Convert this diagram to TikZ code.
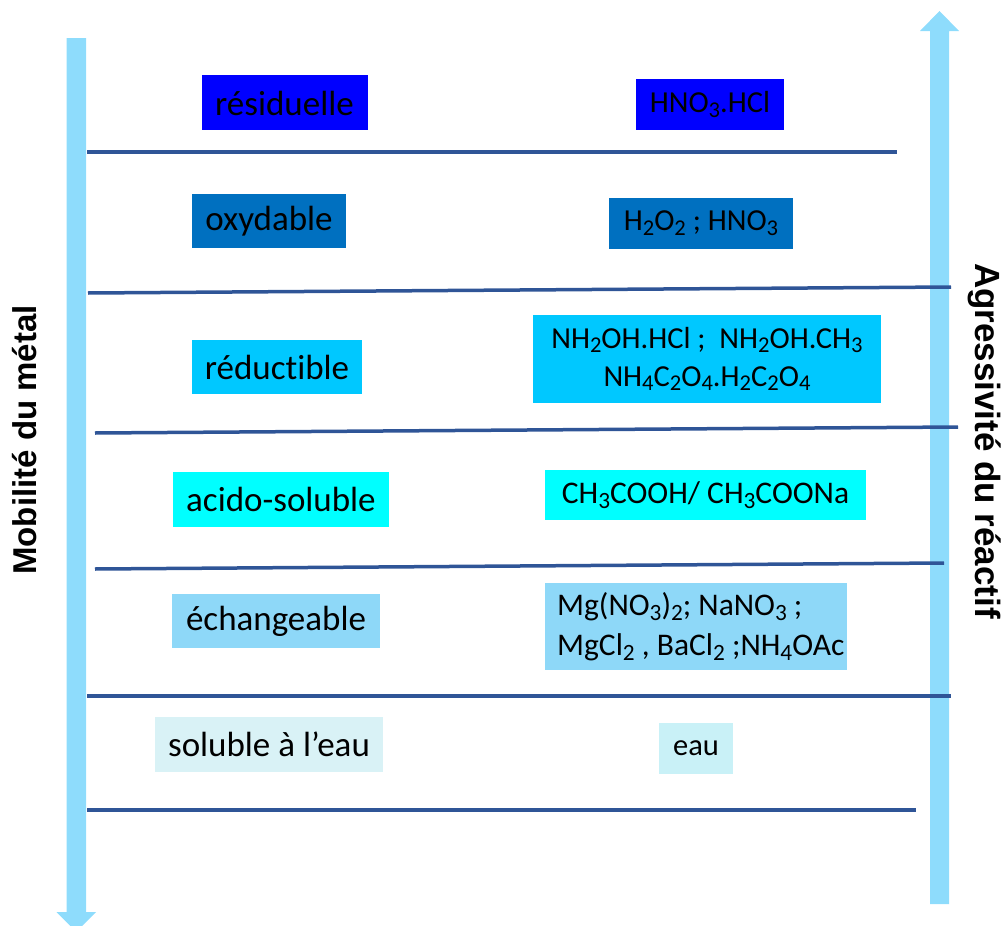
\documentclass[tikz,border=0pt]{standalone}
\usepackage{fontspec}
\usepackage{graphicx}
\setmainfont[Ligatures={NoCommon}]{Carlito}
\newfontfamily\axisfont{Liberation Sans}
\definecolor{arrowblue}{HTML}{8EDCFC}
\definecolor{linecol}{HTML}{2F5597}
\definecolor{cRes}{HTML}{0000FF}
\definecolor{cOxy}{HTML}{0070C0}
\definecolor{cRed}{HTML}{00C8FF}
\definecolor{cAci}{HTML}{00FFFF}
\definecolor{cEch}{HTML}{8ED8F8}
\definecolor{cSolL}{HTML}{D9F2F6}
\definecolor{cSolR}{HTML}{C9F1F7}
\newcommand\dn[1]{\raisebox{-0.33ex}{\scalebox{0.74}{#1}}}
\begin{document}
\begin{tikzpicture}[x=1pt,y=-1pt,
  lbox/.style={inner sep=0pt, font=\fontsize{35}{42}\selectfont, text=black},
  rbox/.style={inner sep=0pt, font=\fontsize{30.5}{38}\selectfont, text=black},
  rboxb/.style={inner sep=0pt, font=\fontsize{31.5}{40}\selectfont, text=black},
  sep/.style={draw=linecol, line width=3.5pt},
  bigarrow/.style={fill=arrowblue, draw=none},
  axislabel/.style={font=\axisfont\bfseries\fontsize{33}{38}\selectfont, text=black}]
\useasboundingbox (0,0) rectangle (1005,926);
% arrows
\fill[bigarrow] (66.5,38) -- (86,38) -- (86,912) -- (96,912) -- (76.25,932) -- (56.5,912) -- (66.5,912) -- cycle;
\fill[bigarrow] (930,904) -- (949,904) -- (949,31) -- (959,31) -- (939.5,11) -- (920,31) -- (930,31) -- cycle;
% separators
\coordinate (s1a) at (87,152);  \coordinate (s1b) at (897,152);
\coordinate (s2a) at (88,293);  \coordinate (s2b) at (951,287);
\coordinate (s3a) at (95,433);  \coordinate (s3b) at (958,427);
\coordinate (s4a) at (95,569);  \coordinate (s4b) at (944,563);
\coordinate (s5a) at (87,696);  \coordinate (s5b) at (951,696);
\coordinate (s6a) at (87,810);  \coordinate (s6b) at (916,810);
\draw[sep] (s1a) -- (s1b);
\draw[sep] (s2a) -- (s2b);
\draw[sep] (s3a) -- (s3b);
\draw[sep] (s4a) -- (s4b);
\draw[sep] (s5a) -- (s5b);
\draw[sep] (s6a) -- (s6b);
% left boxes
\fill[cRes] (201.5,75) rectangle (367.5,130);
\node[lbox] (res) at (284.5,103) {résiduelle};
\fill[cOxy] (192,194) rectangle (346,248);
\node[lbox] (oxy) at (269,221) {oxydable};
\fill[cRed] (192,340) rectangle (362,394);
\node[lbox] (red) at (277,367) {réductible};
\fill[cAci] (173,472) rectangle (389,527);
\node[lbox] (aci) at (281,499.5) {acido-soluble};
\fill[cEch] (172,594) rectangle (380,648);
\node[lbox] (ech) at (276,621) {échangeable};
\fill[cSolL] (155,717) rectangle (383,772);
\node[lbox] (sol) at (269,744.5) {soluble à l’eau};
% right boxes
\fill[cRes] (636,79) rectangle (784,130);
\node[rbox] (hno) at (710,104.5) {HNO\dn{3}.HCl};
\fill[cOxy] (609,198) rectangle (793,249);
\node[rbox] (hoo) at (701,223.5) {H\dn{2}O\dn{2} ; HNO\dn{3}};
\fill[cRed] (533,315) rectangle (881,403);
\node[rbox, align=center] (nh) at (707,359) {NH\dn{2}OH.HCl ;\ \ NH\dn{2}OH.CH\dn{3}\\NH\dn{4}C\dn{2}O\dn{4}.H\dn{2}C\dn{2}O\dn{4}};
\fill[cAci] (545,470) rectangle (866,520);
\node[rboxb] (ch) at (705.5,495) {CH\dn{3}COOH/ CH\dn{3}COONa};
\fill[cEch] (545,583) rectangle (847,670);
\node[rboxb, align=left, anchor=west] (mg) at (557,626.5) {Mg(NO\dn{3})\dn{2}; NaNO\dn{3} ;\\MgCl\dn{2} , BaCl\dn{2} ;NH\dn{4}OAc};
\fill[cSolR] (659,723) rectangle (733,774);
\node[rbox] (eau) at (696,748.5) {eau};
% axis labels
\node[axislabel, rotate=90] (mob) at (25,440) {Mobilité du métal};
\node[axislabel, font=\axisfont\bfseries\fontsize{35}{40}\selectfont, rotate=-90] (agr) at (985,441) {Agressivité du réactif};
\end{tikzpicture}
\end{document}
